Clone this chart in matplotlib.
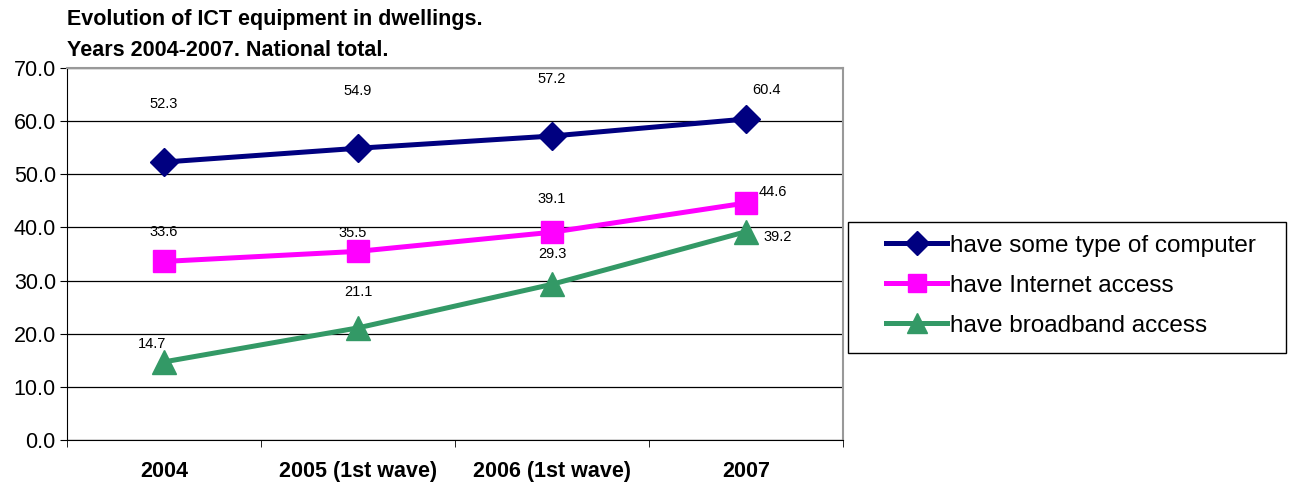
import matplotlib
matplotlib.use("Agg")
import matplotlib.pyplot as plt
from matplotlib.patches import Rectangle

# datos del gráfico
categorias = ["2004", "2005 (1st wave)", "2006 (1st wave)", "2007"]
computador = [52.3, 54.9, 57.2, 60.4]
internet = [33.6, 35.5, 39.1, 44.6]
banda_larga = [14.7, 21.1, 29.3, 39.2]

nomes_series = ["have some type of computer", "have Internet access", "have broadband access"]

plt.rcParams['font.family'] = ['Liberation Sans', 'DejaVu Sans']

fig = plt.figure(figsize=(12.93, 4.84), dpi=100)
ax = fig.add_axes([0.0518, 0.0909, 0.6002, 0.7686])

x = list(range(len(categorias)))

estilos = [
    (computador, '#000080', 'D', 14),
    (internet, '#FF00FF', 's', 16),
    (banda_larga, '#339966', '^', 17),
]
# deslocamentos dos rótulos (pixels)
desloc = [
    [(0, 58), (0, 57), (0, 57), (20, 29)],
    [(0, 29), (-5, 18), (0, 33), (27, 11)],
    [(-12, 18), (0, 36), (0, 30), (32, -5)],
]

linhas = []
for (valores, cor, marcador, tam), nome, offs in zip(estilos, nomes_series, desloc):
    l, = ax.plot(x, valores, color=cor, lw=3.6, marker=marcador, markersize=tam,
                 label=nome, zorder=3)
    linhas.append(l)
    for xi, v, (dx, dy) in zip(x, valores, offs):
        ax.annotate(f"{v:.1f}", (xi, v), xytext=(dx, dy), textcoords='offset pixels',
                    ha='center', va='center', fontsize=10.5)

ax.set_xlim(-0.5, 3.5)
ax.set_ylim(0, 70)
ax.set_yticks(range(0, 71, 10))
ax.set_yticklabels([f"{v:.1f}" for v in range(0, 71, 10)], fontsize=15.5)
ax.yaxis.grid(True, color='black', lw=0.9)
ax.set_axisbelow(True)

ax.set_xticks(x)
ax.set_xticklabels(categorias, fontsize=15.5, fontweight='bold')
ax.tick_params(axis='x', length=0, pad=15)
ax.set_xticks([-0.5, 0.5, 1.5, 2.5, 3.5], minor=True)
ax.tick_params(axis='x', which='minor', length=5, direction='out')
ax.tick_params(axis='y', length=5, direction='out', pad=3)

for lado in ['left', 'bottom']:
    ax.spines[lado].set_color('black')
for lado in ['top', 'right']:
    ax.spines[lado].set_color('#999999')
    ax.spines[lado].set_linewidth(1.5)

fig.text(0.0518, 1 - 19 / 484, "Evolution of ICT equipment in dwellings.",
         fontsize=15.5, fontweight='bold', ha='left', va='center')
fig.text(0.0518, 1 - 51 / 484, "Years 2004-2007. National total.",
         fontsize=15.5, fontweight='bold', ha='left', va='center')

# caixa da legenda
caixa = (848 / 1293, 1 - 353 / 484, 438 / 1293, 131 / 484)
fig.patches.append(Rectangle(caixa[:2], caixa[2], caixa[3], transform=fig.transFigure,
                             fill=False, edgecolor='black', lw=1.0))
leg = fig.legend(handles=linhas, loc='center',
                 bbox_to_anchor=(caixa[0] + caixa[2] / 2 + 0.003, caixa[1] + caixa[3] / 2 + 0.004),
                 fontsize=17.5, frameon=False, handlelength=2.5, handletextpad=0.1,
                 labelspacing=0.74, borderpad=0, markerscale=0.85)

plt.savefig("out.png", dpi=100)
